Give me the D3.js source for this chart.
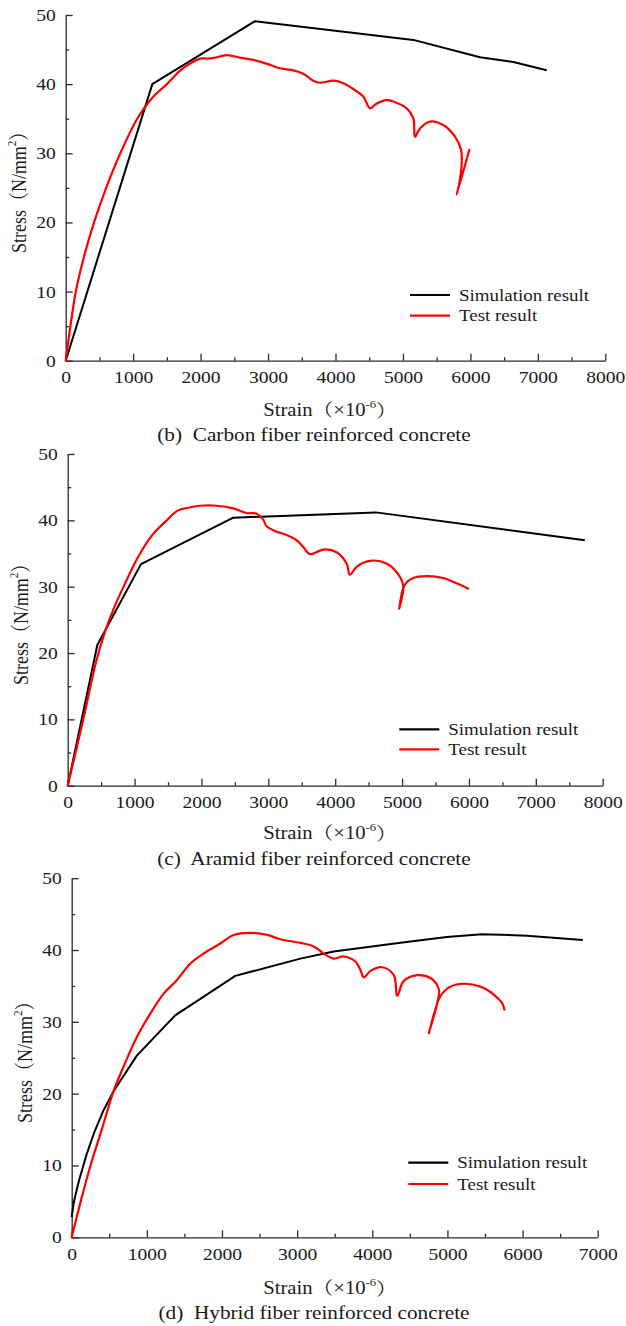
<!DOCTYPE html>
<html>
<head>
<meta charset="utf-8">
<script src="https://cdn.jsdelivr.net/npm/d3@7"></script>
<style>
  html, body { margin: 0; padding: 0; background: #fff; }
  svg { display: block; }
  text { font-family: "Liberation Serif", "Times New Roman", "Noto Serif CJK SC", "Noto Sans CJK SC", serif; fill: #1a1a1a; }
</style>
</head>
<body>
<svg id="fig" width="626" height="1326"></svg>
<script>
// Stress–strain curves: strain in 10^-6, stress in N/mm²  ([strain, stress])

// (b) carbon fiber reinforced concrete
const carbonSim = [[0, 0], [1284, 40.0], [2807, 49.1], [5154, 46.4], [6142, 43.9], [6636, 43.2], [7131, 42.0]];
const carbonTest = [
  [0, 0], [70, 5.0], [150, 10.0], [270, 15.0], [420, 20.0], [600, 25.0], [810, 30.0], [1060, 35.0],
  [1280, 38.0], [1500, 40.0], [1700, 42.0], [1850, 43.0], [1992, 43.7], [2090, 43.7], [2200, 43.8],
  [2387, 44.2], [2600, 43.8], [2782, 43.5], [3000, 42.9], [3178, 42.3], [3376, 42.0], [3523, 41.5],
  [3671, 40.5], [3770, 40.2], [3968, 40.5], [4100, 40.2], [4215, 39.6], [4412, 38.2], [4511, 36.5],
  [4611, 37.2], [4759, 37.7], [4857, 37.5], [5056, 36.5], [5153, 35.1], [5179, 32.4], [5253, 33.6],
  [5401, 34.6], [5598, 34.1], [5772, 32.4], [5861, 30.5], [5871, 28.5], [5836, 25.7], [5797, 24.0],
  [5984, 30.5]
];

// (c) aramid fiber reinforced concrete
const aramidSim = [[0, 0], [443, 21.2], [1096, 33.4], [2476, 40.4], [4609, 41.2], [7733, 37.0]];
const aramidTest = [
  [0, 0], [233, 10.0], [420, 18.5], [550, 23.0], [700, 27.0], [882, 31.0], [1000, 33.5], [1100, 35.3],
  [1200, 36.9], [1300, 38.2], [1480, 40.0], [1650, 41.5], [1800, 41.9], [1978, 42.2], [2227, 42.2],
  [2476, 41.8], [2675, 41.1], [2825, 41.0], [2924, 40.1], [2974, 39.1], [3124, 38.3], [3274, 37.8],
  [3423, 37.0], [3522, 36.0], [3622, 34.9], [3821, 35.6], [4021, 35.2], [4170, 33.5], [4220, 31.8],
  [4320, 33.0], [4519, 33.9], [4768, 33.5], [4967, 31.5], [5020, 30.0], [4957, 26.7], [5035, 30.2],
  [5166, 31.3], [5366, 31.6], [5615, 31.3], [5815, 30.5], [5988, 29.7]
];

// (d) hybrid fiber reinforced concrete
const hybridSim = [
  [0, 2.8], [30, 5.0], [100, 8.0], [200, 11.6], [300, 14.6], [420, 17.6], [555, 20.3], [867, 25.3],
  [1377, 30.9], [2177, 36.4], [3043, 38.8], [3486, 39.8], [4377, 41.0], [4991, 41.8], [5457, 42.2],
  [6057, 42.0], [6802, 41.4]
];
const hybridTest = [
  [0, 0], [120, 5.0], [250, 10.0], [400, 15.0], [555, 20.3], [700, 24.0], [867, 27.9], [1044, 31.1],
  [1221, 33.9], [1399, 35.8], [1577, 38.1], [1754, 39.5], [1976, 40.9], [2155, 42.1], [2377, 42.4],
  [2600, 42.1], [2777, 41.5], [3043, 41.0], [3221, 40.5], [3354, 39.5], [3487, 38.8], [3620, 39.1],
  [3776, 38.4], [3843, 37.2], [3887, 36.2], [3976, 37.1], [4132, 37.6], [4287, 36.5], [4331, 33.6],
  [4420, 35.7], [4598, 36.5], [4775, 36.1], [4886, 34.5], [4864, 32.6], [4753, 28.4], [4908, 33.6],
  [5041, 34.9], [5218, 35.3], [5440, 34.9], [5617, 33.8], [5728, 32.6], [5759, 31.7]
];

// Axis ticks
const yMajor = [0, 10, 20, 30, 40, 50];
const yMinor = [5, 15, 25, 35, 45];
const xMajor8000 = [0, 1000, 2000, 3000, 4000, 5000, 6000, 7000, 8000];
const xMinor8000 = [500, 1500, 2500, 3500, 4500, 5500, 6500, 7500];
const xMajor7000 = [0, 1000, 2000, 3000, 4000, 5000, 6000, 7000];
const xMinor7000 = [500, 1500, 2500, 3500, 4500, 5500, 6500];

const seriesNames = ["Simulation result", "Test result"];
const panelTitles = [
  "(b)  Carbon fiber reinforced concrete",
  "(c)  Aramid fiber reinforced concrete",
  "(d)  Hybrid fiber reinforced concrete"
];

// Page layout of the three stacked panels
const layouts = [
  { x0: 65.7, x1: 605.3, yTop: 15,    yBot: 360.7,  legX: 410,   legY: 295,    legGap: 20.7, xLabY: 410,  titleY: 435 },
  { x0: 67.7, x1: 602.7, yTop: 454,   yBot: 785.7,  legX: 399.3, legY: 729.3,  legGap: 20,   xLabY: 833,  titleY: 859 },
  { x0: 71.7, x1: 597.7, yTop: 878.2, yBot: 1237.3, legX: 408.3, legY: 1162.7, legGap: 21.3, xLabY: 1288, titleY: 1313 }
];

const STRETCH = 1.15;   // horizontal widening of the lettering
const svg = d3.select("#fig");
const fmt = d3.format("d");

function drawPanel(L, sim, test, xMajor, xMinor, title) {
  const x = d3.scaleLinear().domain([0, xMajor[xMajor.length - 1]]).range([L.x0, L.x1]);
  const y = d3.scaleLinear().domain([0, 50]).range([L.yBot, L.yTop]);
  const g = svg.append("g");

  // minor ticks (inward)
  g.append("g").attr("transform", `translate(0,${L.yBot})`)
    .call(d3.axisBottom(x).tickValues(xMinor).tickSize(-3.5).tickFormat(""))
    .call(s => s.select(".domain").remove());
  g.append("g").attr("transform", `translate(${L.x0},0)`)
    .call(d3.axisLeft(y).tickValues(yMinor).tickSize(-3.5).tickFormat(""))
    .call(s => s.select(".domain").remove());

  // major axes
  const xa = g.append("g").attr("transform", `translate(0,${L.yBot})`)
    .call(d3.axisBottom(x).tickValues(xMajor).tickFormat(fmt).tickSizeInner(-7).tickSizeOuter(0).tickPadding(10.5));
  const ya = g.append("g").attr("transform", `translate(${L.x0},0)`)
    .call(d3.axisLeft(y).tickValues(yMajor).tickFormat(fmt).tickSizeInner(-7).tickSizeOuter(0).tickPadding(10 / STRETCH));

  g.selectAll(".tick line").attr("stroke", "#2a2a2a").attr("stroke-width", 1.3);
  g.selectAll(".domain").attr("stroke", "#2a2a2a").attr("stroke-width", 1.3);
  [xa, ya].forEach(a => a.selectAll("text")
    .attr("font-size", 17).attr("font-family", null).attr("fill", "#1a1a1a")
    .attr("transform", `scale(${STRETCH},1)`));

  // curves
  const lineSim = d3.line().x(d => x(d[0])).y(d => y(d[1]));
  const lineTest = d3.line().x(d => x(d[0])).y(d => y(d[1])).curve(d3.curveCatmullRom.alpha(0.5));
  g.append("path").datum(sim).attr("d", lineSim)
    .attr("fill", "none").attr("stroke", "#000").attr("stroke-width", 2).attr("stroke-linejoin", "round");
  g.append("path").datum(test).attr("d", lineTest)
    .attr("fill", "none").attr("stroke", "#ff0000").attr("stroke-width", 2.2)
    .attr("stroke-linejoin", "round").attr("stroke-linecap", "round");

  // legend
  const colors = ["#000", "#ff0000"];
  seriesNames.forEach((name, i) => {
    const ly = L.legY + i * L.legGap;
    g.append("line").attr("x1", L.legX).attr("x2", L.legX + 40).attr("y1", ly).attr("y2", ly)
      .attr("stroke", colors[i]).attr("stroke-width", 2.2);
    g.append("text").attr("transform", `translate(${L.legX + 49},${ly}) scale(${STRETCH},1)`)
      .attr("dy", "0.35em").attr("font-size", 16.5).text(name);
  });

  // x-axis title: Strain（×10⁻⁶）
  const xt = g.append("text")
    .attr("transform", `translate(330,${L.xLabY}) scale(${STRETCH},1)`)
    .attr("text-anchor", "middle").attr("dy", "0.35em").attr("font-size", 18);
  xt.append("tspan").text("Strain（×10");
  xt.append("tspan").attr("font-size", 11).attr("dy", "-0.75em").text("-6");
  xt.append("tspan").attr("dy", "0.48em").text("）");

  // y-axis title: Stress（N/mm²）
  const yt = g.append("text")
    .attr("transform", `translate(${L.x0 - 47},${(L.yTop + L.yBot) / 2}) scale(${STRETCH},1) rotate(-90)`)
    .attr("text-anchor", "middle").attr("dy", "0.35em").attr("font-size", 18);
  yt.append("tspan").text("Stress（N/mm");
  yt.append("tspan").attr("font-size", 11).attr("dy", "-0.75em").text("2");
  yt.append("tspan").attr("dy", "0.48em").text("）");

  // panel caption
  g.append("text")
    .attr("transform", `translate(314,${L.titleY}) scale(${STRETCH},1)`)
    .attr("text-anchor", "middle").attr("dy", "0.35em").attr("font-size", 18.5)
    .attr("xml:space", "preserve").style("white-space", "pre")
    .text(title);
}

drawPanel(layouts[0], carbonSim, carbonTest, xMajor8000, xMinor8000, panelTitles[0]);
drawPanel(layouts[1], aramidSim, aramidTest, xMajor8000, xMinor8000, panelTitles[1]);
drawPanel(layouts[2], hybridSim, hybridTest, xMajor7000, xMinor7000, panelTitles[2]);
</script>
</body>
</html>
